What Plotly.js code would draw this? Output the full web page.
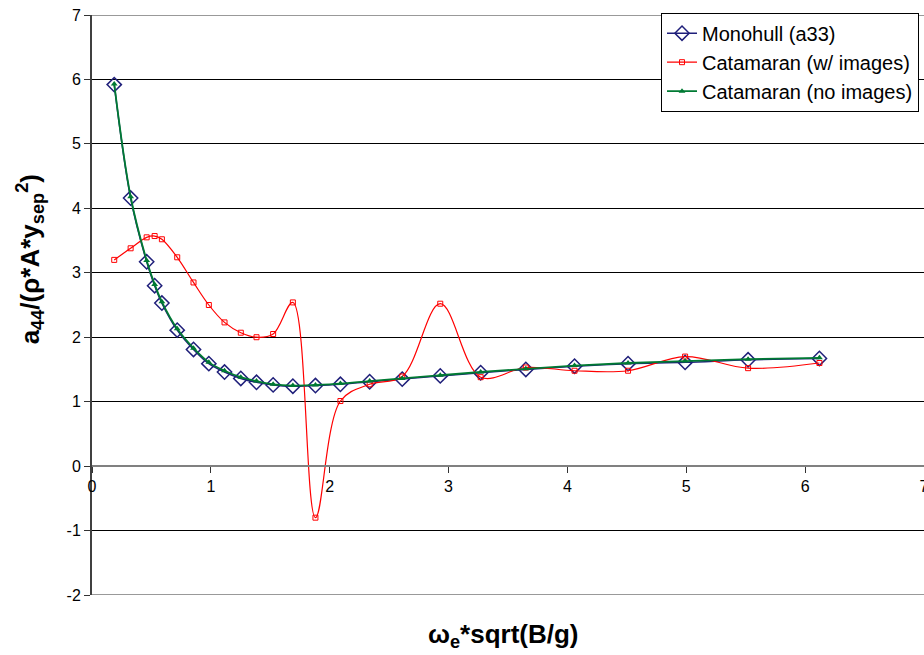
<!DOCTYPE html>
<html>
<head>
<meta charset="utf-8">
<script src="https://cdn.plot.ly/plotly-3.0.1.min.js"></script>
<style>html,body{margin:0;padding:0;background:#fff;}#chart{width:924px;height:655px;}</style>
</head>
<body>
<div id="chart"></div>
<script>
const omega = [0.187,0.325,0.46,0.527,0.588,0.717,0.854,0.983,1.115,1.252,1.384,1.524,1.69,1.88,2.09,2.336,2.61,2.93,3.27,3.65,4.06,4.51,4.99,5.52,6.12];
const monohull = [5.92,4.16,3.17,2.80,2.53,2.11,1.81,1.59,1.46,1.36,1.30,1.26,1.24,1.25,1.27,1.31,1.35,1.40,1.45,1.50,1.55,1.59,1.61,1.65,1.67];
const catWithImages = [3.20,3.38,3.55,3.57,3.52,3.24,2.85,2.50,2.23,2.07,2.00,2.05,2.54,-0.80,1.01,1.27,1.39,2.52,1.38,1.53,1.48,1.48,1.70,1.52,1.60];
const catNoImages = [5.93,4.18,3.19,2.82,2.55,2.13,1.83,1.61,1.48,1.38,1.32,1.27,1.25,1.26,1.28,1.32,1.36,1.41,1.46,1.51,1.56,1.60,1.63,1.66,1.68];
const seriesNames = ['Monohull (a33)','Catamaran (w/ images)','Catamaran (no images)'];
const yTicks = [-2,-1,0,1,2,3,4,5,6,7];
const xTicks = [0,1,2,3,4,5,6,7];

const FONT = 'Liberation Sans, Arial, sans-serif';

const traces = [
  {x: omega, y: monohull, name: seriesNames[0], mode: 'lines+markers',
   line: {color: '#1F1F7A', width: 1.5, shape: 'spline', smoothing: 1},
   marker: {symbol: 'diamond-open', size: 11, color: '#1F1F7A', line: {width: 1.5, color: '#1F1F7A'}}},
  {x: omega, y: catWithImages, name: seriesNames[1], mode: 'lines+markers',
   line: {color: '#FF0000', width: 1.2, shape: 'spline', smoothing: 1},
   marker: {symbol: 'square-open', size: 5, color: '#FF0000', line: {width: 1, color: '#FF0000'}}},
  {x: omega, y: catNoImages, name: seriesNames[2], mode: 'lines+markers',
   line: {color: '#007A33', width: 1.8, shape: 'spline', smoothing: 1},
   marker: {symbol: 'triangle-up', size: 6, color: '#007A33'}}
];

const layout = {
  width: 924, height: 655,
  margin: {l: 92, r: 0, t: 15, b: 60},
  paper_bgcolor: '#ffffff', plot_bgcolor: '#ffffff',
  font: {family: FONT, color: '#000', size: 16},
  showlegend: true,
  legend: {x: 0.994, y: 1.004, xanchor: 'right', yanchor: 'top',
           bgcolor: '#ffffff', bordercolor: '#000000', borderwidth: 1,
           font: {family: FONT, size: 20, color: '#000'}, tracegroupgap: 0},
  xaxis: {range: [0, 7], tickvals: xTicks, ticktext: xTicks.map(String),
          showgrid: false, zeroline: false,
          anchor: 'free', position: 2/9,
          showline: true, linecolor: '#808080', linewidth: 2,
          ticks: 'outside', ticklen: 6, tickcolor: '#333', tickwidth: 1,
          ticklabeloverflow: 'allow',
          tickfont: {family: FONT, size: 16, color: '#000'}},
  yaxis: {range: [-2, 7], tickvals: yTicks, ticktext: yTicks.map(String),
          showgrid: true, gridcolor: '#000000', gridwidth: 1, zeroline: false,
          showline: true, linecolor: '#404040', linewidth: 2,
          ticks: 'outside', ticklen: 6, tickcolor: '#333', tickwidth: 1,
          tickfont: {family: FONT, size: 16, color: '#000'}},
  shapes: [
    {type: 'line', xref: 'paper', yref: 'y', x0: 0, x1: 1, y0: 7, y1: 7, line: {color: '#999999', width: 2}, layer: 'above'},
    {type: 'line', xref: 'paper', yref: 'y', x0: 0, x1: 1, y0: -2, y1: -2, line: {color: '#999999', width: 2}, layer: 'above'}
  ],
  annotations: [
    {text: '<b>ω<sub>e</sub>*sqrt(B/g)</b>', xref: 'paper', yref: 'paper',
     x: 0.494, y: -0.069, xanchor: 'center', yanchor: 'middle', showarrow: false,
     font: {family: FONT, size: 26, color: '#000'}},
    {text: '<b>a<sub>44</sub>/(ρ*A*y<sub>sep</sub><sup>2</sup>)</b>', xref: 'paper', yref: 'paper',
     x: -0.075, y: 0.578, xanchor: 'center', yanchor: 'middle', textangle: -90, showarrow: false,
     font: {family: FONT, size: 26, color: '#000'}}
  ]
};

Plotly.newPlot('chart', traces, layout, {displayModeBar: false, staticPlot: true});
</script>
</body>
</html>
